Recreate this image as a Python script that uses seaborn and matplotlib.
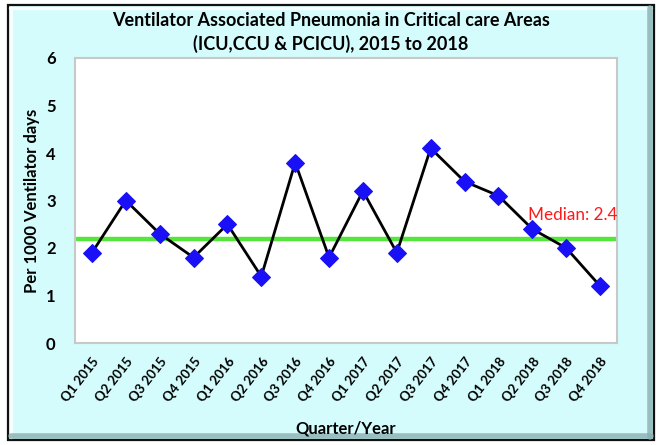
import matplotlib
matplotlib.use("Agg")
import matplotlib.pyplot as plt
from matplotlib.patches import Rectangle
from matplotlib.lines import Line2D
import pandas as pd
import seaborn as sns

quarters = ["Q1 2015", "Q2 2015", "Q3 2015", "Q4 2015",
            "Q1 2016", "Q2 2016", "Q3 2016", "Q4 2016",
            "Q1 2017", "Q2 2017", "Q3 2017", "Q4 2017",
            "Q1 2018", "Q2 2018", "Q3 2018", "Q4 2018"]
vap_rate = [1.9, 3.0, 2.3, 1.8, 2.5, 1.4, 3.8, 1.8,
            3.2, 1.9, 4.1, 3.4, 3.1, 2.4, 2.0, 1.2]
median_line = 2.2
median_label = "Median: 2.4"

df = pd.DataFrame({"quarter": quarters, "rate": vap_rate})

sns.set_theme(style="white")
plt.rcParams["font.family"] = ["Lato", "DejaVu Sans"]
plt.rcParams["text.color"] = "black"
plt.rcParams["axes.labelcolor"] = "black"
plt.rcParams["xtick.color"] = "black"
plt.rcParams["ytick.color"] = "black"

W, H = 661, 445
fig = plt.figure(figsize=(W / 100, H / 100), dpi=100)
fig.patch.set_facecolor("white")

# panel with bevelled frame
fig.patches.append(Rectangle((8 / W, 1 - 440 / H), 646 / W, 435 / H,
                             transform=fig.transFigure, facecolor="#D4FCFC",
                             edgecolor="#111111", linewidth=1.6, zorder=-10))
bevel = [([10, 651], [8, 8], "white", 2.5),
         ([11, 11], [437, 8], "white", 2.5),
         ([650, 650], [437, 8], "#8AAFB0", 4),
         ([11, 651], [436, 436], "#8AAFB0", 4)]
for xs, ys, col, lw in bevel:
    fig.lines.append(Line2D([x / W for x in xs], [1 - y / H for y in ys],
                            transform=fig.transFigure, color=col, lw=lw,
                            alpha=0.8, zorder=-5))

ax = fig.add_axes([75 / W, 1 - 343 / H, 542 / W, 285 / H])
ax.set_zorder(2)
ax.set_facecolor("white")

sns.lineplot(data=df, x="quarter", y="rate", ax=ax, sort=False, color="black",
             linewidth=2, marker="D", markersize=9,
             markerfacecolor="#1A10F5", markeredgecolor="#1A10F5")
ax.axhline(median_line, color="#55E63D", linewidth=3.2, xmin=0.004, xmax=0.998, zorder=1)
ax.text(12.87, median_line + 0.49, median_label, color="#FF1A1A", fontsize=12.3,
        ha="left", va="center")

ax.set_ylim(0, 6)
ax.set_xlim(-0.5, len(quarters) - 0.5)
ax.set_yticks(range(0, 7))
ax.tick_params(axis="both", length=0)
ax.tick_params(axis="y", pad=14, labelsize=12)
for lab in ax.get_yticklabels():
    lab.set_fontweight("bold")
ax.set_xticks(range(len(quarters)))
ax.set_xticklabels(quarters, rotation=52, ha="right", va="top", rotation_mode="anchor",
                   fontsize=9.5, fontweight="bold")
ax.tick_params(axis="x", pad=9)
for s in ax.spines.values():
    s.set_color("#C8C8C8")
    s.set_linewidth(1.5)

ax.set_xlabel("Quarter/Year", fontsize=12, fontweight="bold")
ax.xaxis.set_label_coords(0.5, -0.272)
ax.set_ylabel("Per 1000 Ventilator days", fontsize=12, fontweight="bold", labelpad=4)

fig.text(331 / W, 1 - 20 / H, "Ventilator Associated Pneumonia in Critical care Areas",
         ha="center", va="center", fontsize=13, fontweight="bold")
fig.text(331 / W, 1 - 44 / H, "(ICU,CCU & PCICU), 2015 to 2018",
         ha="center", va="center", fontsize=13, fontweight="bold")

fig.savefig("out.png", dpi=100)
